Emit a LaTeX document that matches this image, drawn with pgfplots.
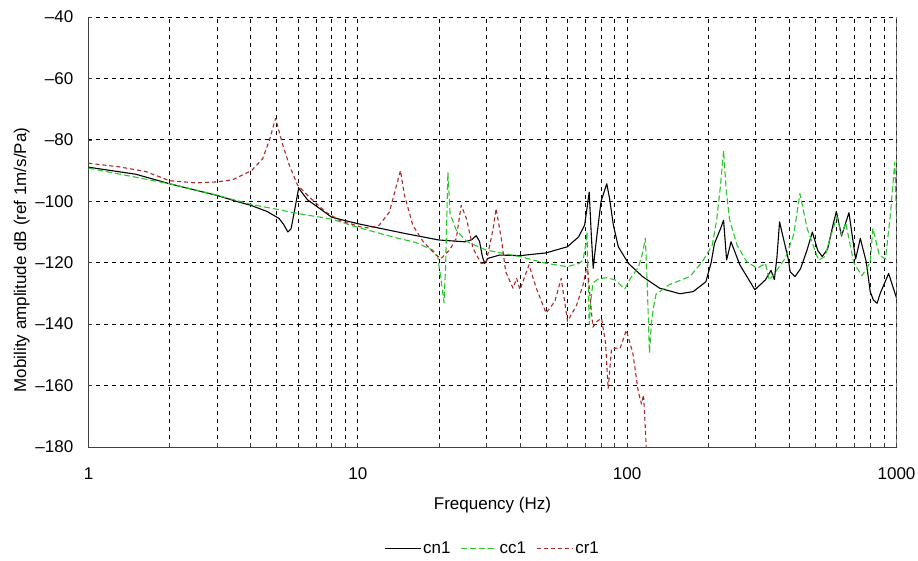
\documentclass[border=0pt]{standalone}
\usepackage{pgfplots}
\pgfplotsset{compat=1.18}
\usepackage{fontspec}
\setmainfont{Liberation Sans}
\definecolor{cgreen}{RGB}{40,200,40}
\definecolor{cred}{RGB}{170,40,40}
\begin{document}
\begin{tikzpicture}
\path[use as bounding box] (-88.5pt,-113pt) rectangle (829.5pt,447pt);
\begin{axis}[
  at={(0pt,0pt)}, anchor=south west,
  scale only axis, width=808pt, height=430pt,
  xmode=log, xmin=1, xmax=1000, ymin=-180, ymax=-40,
  xtick={1,10,100,1000}, xticklabels={1,10,100,1000},
  ytick={-180,-160,-140,-120,-100,-80,-60,-40},
  yticklabels={--180,--160,--140,--120,--100,--80,--60,--40},
  axis x line*=bottom, axis y line*=left,
  axis line style={black!75, line width=0.9pt},
  grid=both,
  major grid style={black, line width=0.8pt, dash pattern=on 4pt off 4pt},
  minor grid style={black, line width=0.8pt, dash pattern=on 4pt off 4pt},
  tick align=inside,
  major tick length=4pt, minor tick length=4pt,
  tick style={black!75, line width=0.7pt},
  xticklabel style={font=\fontsize{17}{20}\selectfont, inner sep=0pt, anchor=center, yshift=-27pt},
  yticklabel style={font=\fontsize{17}{20}\selectfont, inner sep=0pt, anchor=east, xshift=-15pt},
  xlabel={Frequency (Hz)},
  ylabel={Mobility amplitude dB (ref 1m/s/Pa)},
  xlabel style={font=\fontsize{17}{20}\selectfont, at={(axis description cs:0.5,-0.135)}, anchor=center},
  ylabel style={font=\fontsize{17}{20}\selectfont, at={(axis description cs:-0.0827,0.435)}, anchor=center},
  legend columns=3,
  legend style={draw=none, fill=none, font=\fontsize{17}{20}\selectfont,
    at={(axis description cs:0.5,-0.235)}, anchor=center,
    /tikz/every even column/.append style={column sep=8pt}},
  legend image code/.code={\draw[#1] (0pt,0pt) -- (36pt,0pt);},
]
\addplot[black, line width=1.1pt, line join=round] coordinates {
(1,-88.9) (1.5,-91.2) (2,-94.3) (3,-98.1) (3.6,-100.2) (4,-101.3) (4.6,-103.3)
(5.1,-105.6) (5.3,-107.5) (5.5,-110) (5.65,-109) (5.85,-102) (6.03,-95.7)
(6.5,-99.5) (7,-101.5) (8,-105.2) (9,-106.3) (10,-107.3) (15,-110.5) (20,-112.6)
(25,-113.2) (26.5,-112.5) (27.5,-111.2) (28.3,-113) (29,-118) (29.6,-120.2)
(30.4,-118.6) (33.6,-117.5) (40,-117.7) (50,-116.8) (60,-114.8) (66,-111.6)
(69.5,-107.8) (71,-102) (72.3,-97) (73.5,-110) (74.8,-121.8) (77,-112) (80,-100)
(84,-94.3) (86,-99) (88.9,-107.8) (92.7,-114.8) (101,-120.2) (114,-124.5)
(132,-128.3) (157,-130.1) (176,-129.4) (196,-126.2) (205,-120) (211,-113.7)
(222,-109) (228,-106.2) (234,-119.1) (243,-113.2) (262,-120.7) (298,-128.8)
(326,-125.6) (342,-122.5) (352,-125.5) (360,-118) (368,-106.7) (380,-112)
(396,-118.6) (403,-123) (420,-124.5) (440,-122) (465,-116) (487,-110)
(510,-116) (530,-118) (555,-115.5) (580,-108) (598,-103.3) (625,-111.3)
(666,-103.7) (705,-118.8) (734,-112.1) (772,-119.7) (799,-129.4) (820,-132.1)
(847,-133.2) (870,-130) (935,-123.5) (1000,-131.5)
};
\addlegendentry{cn1}
\addplot[cgreen, line width=1.1pt, dash pattern=on 6pt off 3pt, line join=round] coordinates {
(1,-89.2) (2,-94.3) (3,-98) (4,-101) (5,-102.6) (6,-104) (8,-105.8) (10,-108.5)
(13.5,-111.6) (16.4,-113.4) (19,-115.9) (19.8,-118) (20.4,-126) (20.9,-133)
(21.2,-120) (21.6,-90.5) (22,-104) (23.2,-109.4) (25.3,-113) (27.5,-114.5)
(30,-115.9) (40,-118) (50,-120.2) (60,-121.3) (66.4,-120.2) (68.6,-119.1)
(70.2,-114) (70.9,-110) (71.6,-125) (72.3,-140.2) (73.2,-133) (74.6,-126.7)
(78.3,-125.2) (84,-124.9) (90.2,-125.6) (95,-127.5) (98,-128.5) (103,-125)
(110,-121.5) (114,-117) (116.8,-112) (118.5,-125) (121,-149.4) (123,-140)
(125,-135) (128,-130.3) (143,-127.2) (171,-124.5) (190,-119.7) (207,-114.3)
(215,-106) (222,-95) (228,-83.5) (233,-96) (240,-106) (256,-114.3) (278,-119.7)
(304,-121.8) (326,-120.2) (337,-125.6) (349,-124) (386,-118.6) (415,-111)
(438,-97.5) (466,-108.9) (513,-119.1) (543,-118) (566,-112.1) (601,-105)
(625,-111) (648,-107) (694,-120) (744,-124.3) (798,-120) (817,-108.8)
(863,-117.5) (910,-118.8) (950,-104) (985,-87.3) (1000,-105)
};
\addlegendentry{cc1}
\addplot[cred, line width=1.1pt, dash pattern=on 4pt off 3pt, line join=round] coordinates {
(1,-87.6) (1.3,-88.8) (1.63,-90.3) (2,-93.3) (2.5,-94) (3,-93.7) (3.43,-93)
(4.03,-90) (4.43,-86.2) (4.7,-80) (4.95,-73) (5.27,-81.8) (5.57,-88.3)
(5.98,-94.8) (6.6,-98.6) (7.6,-103.5) (8.55,-106.2) (10.2,-108.3) (11,-108.7)
(12,-107.8) (13.1,-103.5) (14.4,-90) (14.9,-98) (16,-107.8) (17.5,-113.2)
(19.5,-117.5) (20.4,-118.6) (21.9,-115.9) (23.2,-112.1) (24.2,-101.3)
(25.3,-105.6) (26.8,-115.4) (28.7,-120.2) (29.9,-120.2) (31.8,-108.9)
(32.6,-102.4) (34.1,-112.1) (35.4,-122.9) (37.7,-128.3) (38.9,-125.1)
(40,-128.8) (43.2,-120.7) (46,-128.3) (50,-136.4) (53.9,-132.6) (56.9,-125.1)
(60.1,-139.1) (65,-133.7) (68.6,-127.2) (71.1,-120.7) (73,-132) (74.6,-141)
(77.3,-139.1) (80.3,-138.1) (83.1,-146) (85,-161) (87.5,-148) (91.3,-147.8)
(94,-148) (99.3,-142) (105,-149.5) (110,-162) (113,-166) (115,-163) (117,-175)
(119,-190)
};
\addlegendentry{cr1}
\draw[black!75, line width=0.9pt] (rel axis cs:1,0) -- (rel axis cs:1,1);
\end{axis}
\end{tikzpicture}
\end{document}
